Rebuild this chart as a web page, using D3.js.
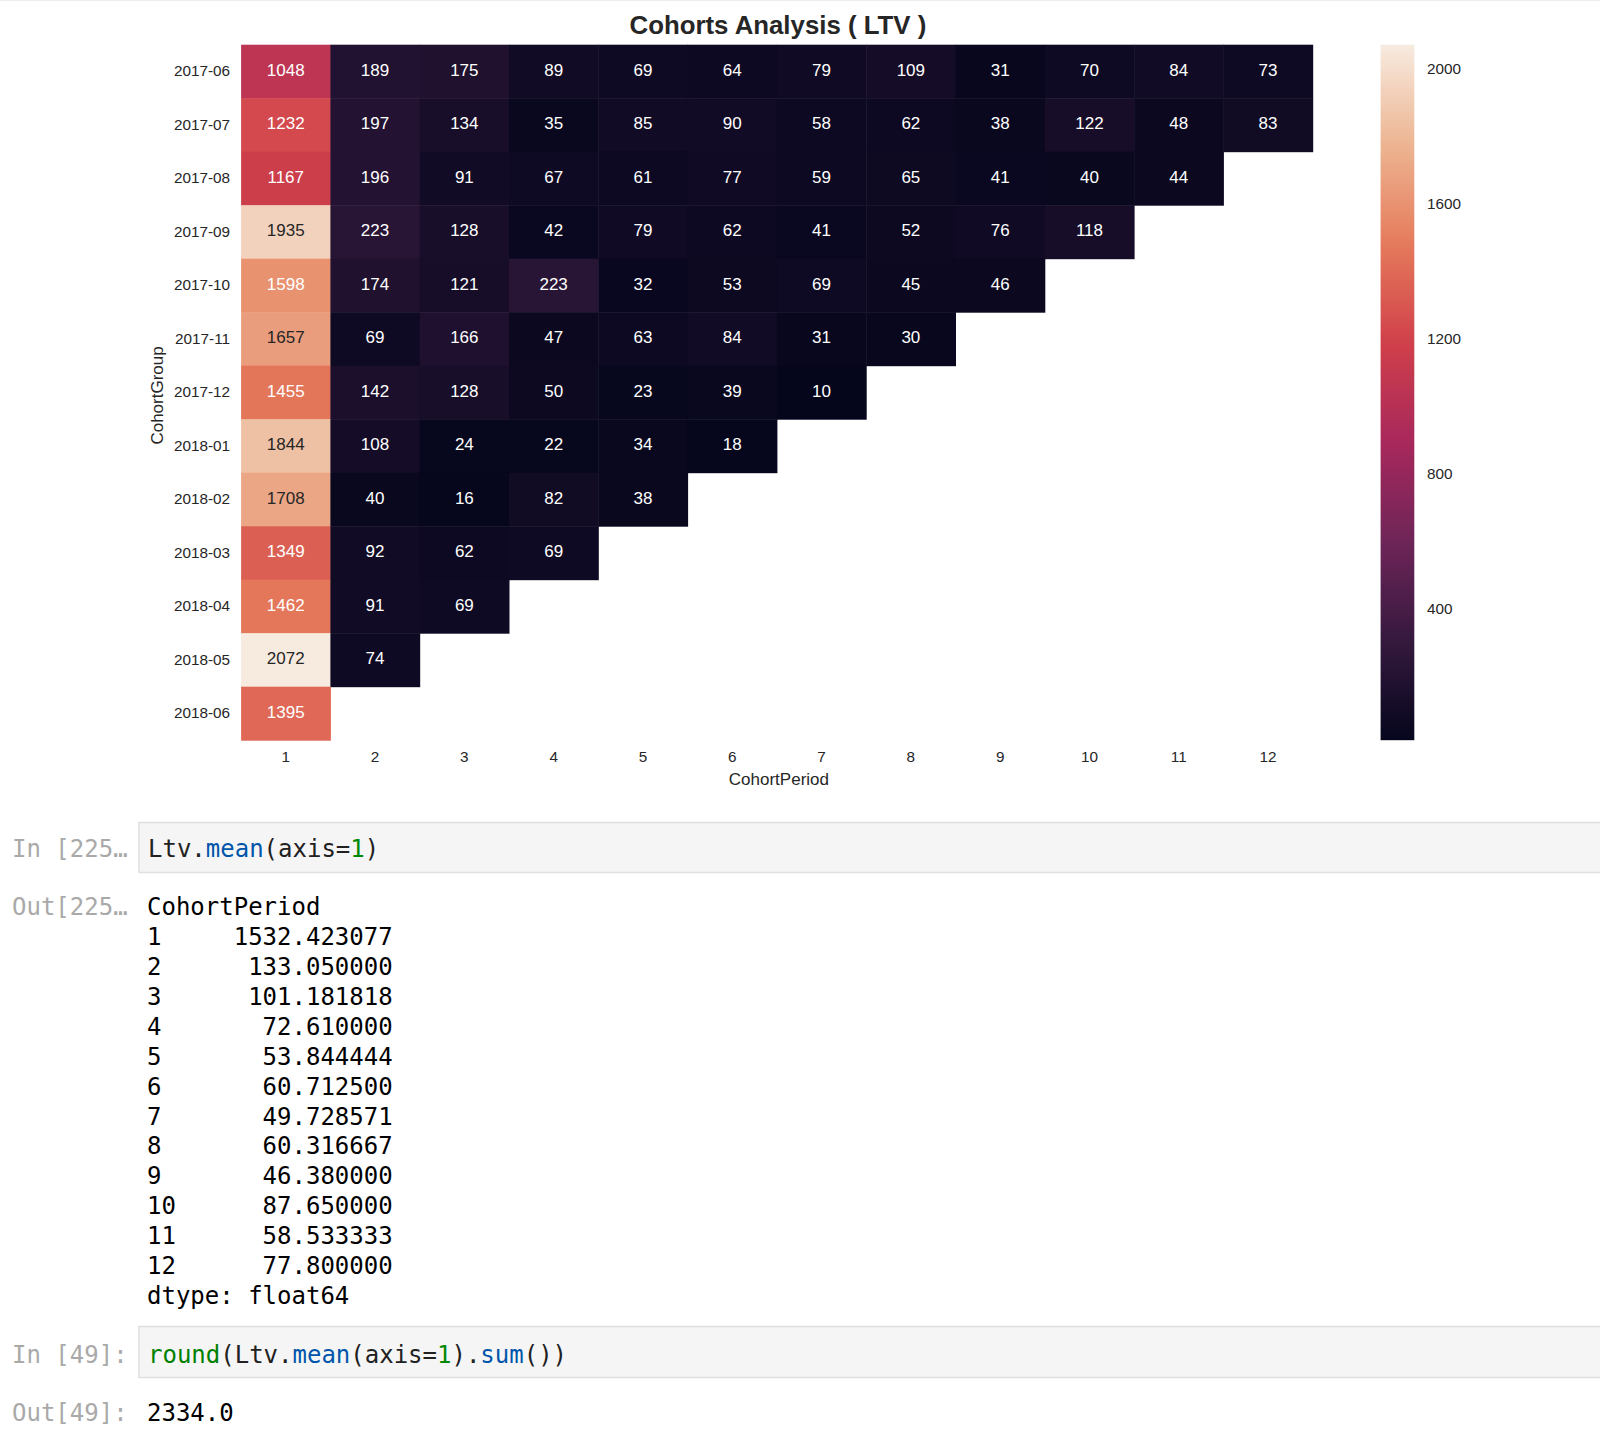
<!DOCTYPE html>
<html>
<head>
<meta charset="utf-8">
<script src="https://cdn.jsdelivr.net/npm/d3@7"></script>
<style>
  html, body { margin: 0; padding: 0; background: #fff; }
  svg { display: block; }
  .mono { font-family: "DejaVu Sans Mono", monospace; font-size: 24px; white-space: pre; }
  .sans { font-family: "Liberation Sans", Arial, sans-serif; }
</style>
</head>
<body>
<svg id="page" width="1600" height="1442"></svg>
<script>
// ---- data ----
var cohortGroups = ['2017-06', '2017-07', '2017-08', '2017-09', '2017-10', '2017-11', '2017-12',
  '2018-01', '2018-02', '2018-03', '2018-04', '2018-05', '2018-06'];
var cohortPeriods = [1, 2, 3, 4, 5, 6, 7, 8, 9, 10, 11, 12];
// one row per cohort group, values for period 1, 2, ...
var ltv = [
  [1048, 189, 175, 89, 69, 64, 79, 109, 31, 70, 84, 73],
  [1232, 197, 134, 35, 85, 90, 58, 62, 38, 122, 48, 83],
  [1167, 196, 91, 67, 61, 77, 59, 65, 41, 40, 44],
  [1935, 223, 128, 42, 79, 62, 41, 52, 76, 118],
  [1598, 174, 121, 223, 32, 53, 69, 45, 46],
  [1657, 69, 166, 47, 63, 84, 31, 30],
  [1455, 142, 128, 50, 23, 39, 10],
  [1844, 108, 24, 22, 34, 18],
  [1708, 40, 16, 82, 38],
  [1349, 92, 62, 69],
  [1462, 91, 69],
  [2072, 74],
  [1395]
];
var colorbarTicks = [400, 800, 1200, 1600, 2000];
// printed output of Ltv.mean(axis=1)
var periodMeans = [1532.423077, 133.050000, 101.181818, 72.610000, 53.844444, 60.712500,
  49.728571, 60.316667, 46.380000, 87.650000, 58.533333, 77.800000];

// ---- layout ----
var svg = d3.select('#page');
var textColor = '#262626';
var hm = { left: 241.1, top: 44.7, cellW: 89.3, cellH: 53.5 };
hm.right = hm.left + hm.cellW * cohortPeriods.length;
hm.bottom = hm.top + hm.cellH * cohortGroups.length;

svg.append('line').attr('x1', 0).attr('x2', 1600).attr('y1', 0.5).attr('y2', 0.5)
  .attr('stroke', '#ececec');

// rocket-like colormap, toned to the screenshot
var rocketStops = ['#05061c', '#35193e', '#6e2558', '#a8285c', '#d0404a', '#e57b5b', '#edb592', '#f7ebe0'];
var cells = [];
ltv.forEach(function (row, i) {
  row.forEach(function (v, j) {
    cells.push({ group: cohortGroups[i], period: cohortPeriods[j], value: v });
  });
});
var vmin = d3.min(cells, function (d) { return d.value; });
var vmax = d3.max(cells, function (d) { return d.value; });
var color = d3.scaleSequential(d3.piecewise(d3.interpolateRgb, rocketStops)).domain([vmin, vmax]);

var x = d3.scaleBand().domain(cohortPeriods).range([hm.left, hm.right]);
var y = d3.scaleBand().domain(cohortGroups).range([hm.top, hm.bottom]);

// same rule seaborn uses to pick the annotation colour
function luminance(c) {
  var rgb = d3.rgb(c);
  var lin = [rgb.r, rgb.g, rgb.b].map(function (v) {
    v = v / 255;
    return v <= 0.03928 ? v / 12.92 : Math.pow((v + 0.055) / 1.055, 2.4);
  });
  return 0.2126 * lin[0] + 0.7152 * lin[1] + 0.0722 * lin[2];
}

var g = svg.append('g');
g.selectAll('rect.cell').data(cells).enter().append('rect')
  .attr('class', 'cell')
  .attr('x', function (d) { return x(d.period); })
  .attr('y', function (d) { return y(d.group); })
  .attr('width', x.bandwidth() + 0.5)
  .attr('height', y.bandwidth() + 0.5)
  .attr('fill', function (d) { return color(d.value); });

g.selectAll('text.annot').data(cells).enter().append('text')
  .attr('class', 'annot sans')
  .attr('x', function (d) { return x(d.period) + x.bandwidth() / 2; })
  .attr('y', function (d) { return y(d.group) + y.bandwidth() / 2; })
  .attr('dy', '0.24em')
  .attr('text-anchor', 'middle')
  .attr('font-size', 17)
  .attr('fill', function (d) { return luminance(color(d.value)) > 0.408 ? textColor : '#ffffff'; })
  .text(function (d) { return d.value; });

// axes
var yAxis = svg.append('g').attr('transform', 'translate(' + hm.left + ',0)')
  .call(d3.axisLeft(y).tickSize(0).tickPadding(11));
var xAxis = svg.append('g').attr('transform', 'translate(0,' + hm.bottom + ')')
  .call(d3.axisBottom(x).tickSize(0).tickPadding(11.4));
[yAxis, xAxis].forEach(function (a) {
  a.select('.domain').remove();
  a.attr('font-family', null).attr('font-size', null);
  a.selectAll('text').attr('class', 'sans').attr('font-size', 15.3).attr('fill', textColor);
});

svg.append('text').attr('class', 'sans')
  .attr('x', (hm.left + hm.right) / 2 + 2).attr('y', 779).attr('dy', '0.36em')
  .attr('text-anchor', 'middle').attr('font-size', 17).attr('fill', textColor)
  .text('CohortPeriod');
svg.append('text').attr('class', 'sans')
  .attr('transform', 'translate(156.5,' + ((hm.top + hm.bottom) / 2 + 3) + ') rotate(-90)')
  .attr('text-anchor', 'middle').attr('dy', '0.36em').attr('font-size', 17).attr('fill', textColor)
  .text('CohortGroup');
svg.append('text').attr('class', 'sans')
  .attr('x', (hm.left + hm.right) / 2 + 1).attr('y', 34)
  .attr('text-anchor', 'middle').attr('font-size', 25.8).attr('font-weight', 'bold')
  .attr('fill', textColor)
  .text('Cohorts Analysis ( LTV )');

// colorbar
var cb = { left: 1380.6, width: 33.7 };
var cbScale = d3.scaleLinear().domain([vmin, vmax]).range([hm.bottom, hm.top]);
var grad = svg.append('defs').append('linearGradient')
  .attr('id', 'cbgrad').attr('x1', 0).attr('x2', 0).attr('y1', 1).attr('y2', 0);
grad.selectAll('stop').data(d3.range(0, 1.0001, 1 / 64)).enter().append('stop')
  .attr('offset', function (t) { return t; })
  .attr('stop-color', function (t) { return color(vmin + t * (vmax - vmin)); });
svg.append('rect')
  .attr('x', cb.left).attr('y', hm.top)
  .attr('width', cb.width).attr('height', hm.bottom - hm.top)
  .attr('fill', 'url(#cbgrad)');
var cbAxis = svg.append('g').attr('transform', 'translate(' + (cb.left + cb.width) + ',0)')
  .call(d3.axisRight(cbScale).tickValues(colorbarTicks).tickFormat(d3.format('d'))
    .tickSize(0).tickPadding(12.7));
cbAxis.select('.domain').remove();
cbAxis.attr('font-family', null).attr('font-size', null);
cbAxis.selectAll('text').attr('class', 'sans').attr('font-size', 15.3).attr('fill', textColor);

// ---- notebook cells below the figure ----
var promptColor = '#a9a9a9';
var codeColors = { plain: '#212121', prop: '#0055aa', num: '#008800', builtin: '#008000' };

function codeBox(top, h) {
  svg.append('rect').attr('x', 139).attr('y', top).attr('width', 1480).attr('height', h)
    .attr('fill', '#f5f5f5').attr('stroke', '#e0e0e0').attr('stroke-width', 1.5);
}
function monoLine(xPos, yPos, tokens) {
  var t = svg.append('text').attr('class', 'mono').attr('xml:space', 'preserve')
    .attr('x', xPos).attr('y', yPos).attr('dy', '0.36em');
  tokens.forEach(function (tk) {
    t.append('tspan').attr('fill', codeColors[tk[1]] || tk[1]).text(tk[0]);
  });
}

codeBox(822.5, 50);
monoLine(12, 848, [['In [225\u2026', promptColor]]);
monoLine(148, 848, [['Ltv.', 'plain'], ['mean', 'prop'], ['(axis=', 'plain'], ['1', 'num'], [')', 'plain']]);

var lineStep = 29.98;
var outTop = 906;
monoLine(12, outTop, [['Out[225\u2026', promptColor]]);
monoLine(147, outTop, [['CohortPeriod', '#000']]);
periodMeans.forEach(function (m, i) {
  var idx = String(cohortPeriods[i]);
  var line = (idx + '  ').slice(0, 2) + '    ' + ('           ' + m.toFixed(6)).slice(-11);
  monoLine(147, outTop + lineStep * (i + 1), [[line, '#000']]);
});
monoLine(147, outTop + lineStep * (periodMeans.length + 1), [['dtype: float64', '#000']]);

codeBox(1326.5, 51);
monoLine(12, 1354, [['In [49]:', promptColor]]);
monoLine(148, 1354, [['round', 'builtin'], ['(Ltv.', 'plain'], ['mean', 'prop'], ['(axis=', 'plain'],
  ['1', 'num'], [').', 'plain'], ['sum', 'prop'], ['())', 'plain']]);

var total = Math.round(d3.sum(periodMeans));
monoLine(12, 1412, [['Out[49]:', promptColor]]);
monoLine(147, 1412, [[total.toFixed(1), '#000']]);
</script>
</body>
</html>
